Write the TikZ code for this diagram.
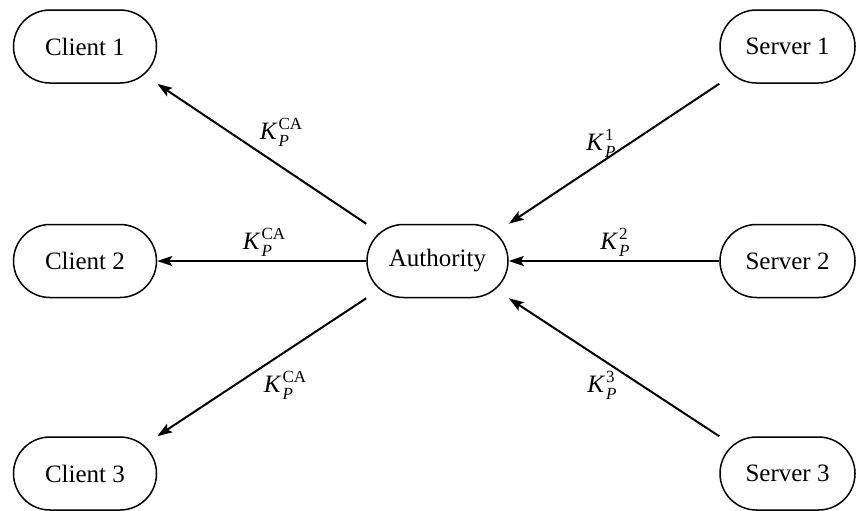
\documentclass[tikz,border=0pt]{standalone}
\usepackage{fontspec}
\setmainfont{Liberation Serif}
\usetikzlibrary{shapes.misc,arrows.meta}

% key label: italic K with subscript P and an upright superscript
\newcommand{\keylabel}[1]{\textit{K}\kern0.5pt\rlap{\raisebox{-0.55ex}{\fontsize{8.5}{9}\selectfont\textit{P}}}\raisebox{0.95ex}{\fontsize{8.5}{9}\selectfont #1}}

\begin{document}
\begin{tikzpicture}[x=0.5pt,y=-0.5pt,
  party/.style={rounded rectangle, draw, line width=0.75pt,
    minimum width=70.5pt, minimum height=36.5pt, inner sep=0pt,
    font=\fontsize{12.5}{14}\selectfont},
  keyflow/.style={line width=1pt, -{Stealth[length=7.5pt,width=5pt,inset=1.5pt]}},
  lbl/.style={font=\fontsize{12.5}{14}\selectfont, inner sep=0pt}
]
\useasboundingbox (0,0) rectangle (856,510);

\node[party, minimum width=71.5pt] (c1) at (85,46.5) {Client 1};
\node[party, minimum width=71.5pt] (c2) at (85,261) {Client 2};
\node[party, minimum width=71.5pt] (c3) at (85,473.5) {Client 3};
\node[party] (auth) at (437.5,261) {Authority};
\node[party, minimum width=67.5pt] (s1) at (787.5,46.5) {Server 1};
\node[party, minimum width=67.5pt] (s2) at (787.5,261) {Server 2};
\node[party, minimum width=67.5pt] (s3) at (787.5,473.5) {Server 3};

% Authority hands its public key to every client
\draw[keyflow] (auth.west |- auth.north) -- (c1.east |- c1.south);
\draw[keyflow] (auth.west) -- (c2.east);
\draw[keyflow] (auth.west |- auth.south) -- (c3.east |- c3.north);

% servers register their public keys with the authority
\draw[keyflow] (s1.west |- s1.south) -- (auth.east |- auth.north);
\draw[keyflow] (s2.west) -- (auth.east);
\draw[keyflow] (s3.west |- s3.north) -- (auth.east |- auth.south);

\node[lbl] (k1) at (281,132) {\keylabel{CA}};
\node[lbl] (k2) at (264,242) {\keylabel{CA}};
\node[lbl] (k3) at (285,385) {\keylabel{CA}};
\node[lbl] (k4) at (600,143) {\keylabel{1}};
\node[lbl] (k5) at (614,242) {\keylabel{2}};
\node[lbl] (k6) at (601,385) {\keylabel{3}};
\end{tikzpicture}
\end{document}
